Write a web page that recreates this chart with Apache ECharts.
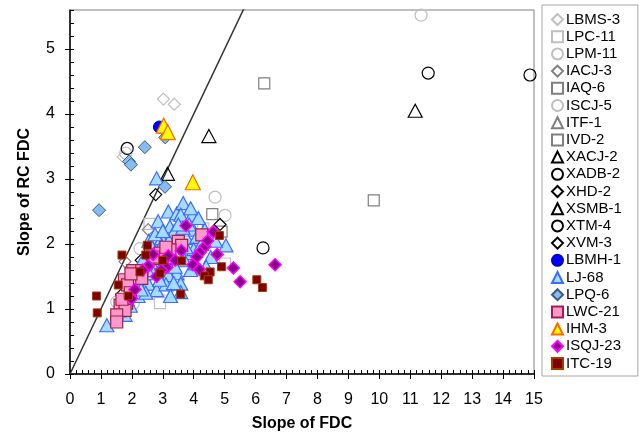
<!DOCTYPE html>
<html><head><meta charset="utf-8">
<script src="https://cdn.jsdelivr.net/npm/echarts@6/dist/echarts.min.js"></script>
<style>html,body{margin:0;padding:0;background:#fff}#c{width:639px;height:433px}</style>
</head><body><div id="c"></div>
<script>
// ---- data: [Slope of FDC, Slope of RC FDC] ----
const LBMS3 = [[3.02,4.23],[3.37,4.15],[1.72,3.34]];
const LPC11 = [[2.57,2.31],[4.31,2.24],[3.93,1.91],[5.01,1.70],[2.91,1.09],[3.30,2.00],[2.70,1.60],[3.60,2.10],[4.00,2.00],[2.20,1.40],[3.00,1.30]];
const LPM11 = [[11.35,5.52],[4.69,2.72],[1.80,3.40],[2.26,1.93],[2.60,1.55],[3.20,1.75],[3.50,1.45],[2.90,2.05],[2.40,1.45],[3.80,2.20],[4.20,1.90]];
const IACJ3 = [[2.53,2.22],[1.78,1.73],[2.50,1.35]];
const IAQ6 = [[6.28,4.47],[4.60,2.46],[4.90,2.19],[3.50,2.20],[2.80,1.90],[3.90,1.80]];
const ISCJ5 = [[5.01,2.44],[1.51,1.11],[2.05,1.09],[3.10,1.60],[3.70,2.35]];
const ITF1 = [[3.10,2.05]];
const IVD2 = [[9.82,2.67],[4.10,2.30]];
const XACJ2 = [[4.49,3.66],[11.16,4.05]];
const XADB2 = [[11.58,4.63],[14.87,4.60]];
const XHD2 = [[2.77,2.76],[4.85,2.30]];
const XSMB1 = [[3.15,3.08]];
const XTM4 = [[1.85,3.47],[6.24,1.94],[2.60,1.90],[3.30,1.60]];
const XVM3 = [[1.67,1.22],[2.30,1.75],[3.50,1.85]];
const LBMH1 = [[2.89,3.80]];
const LJ68 = [[2.80,3.01],[3.18,2.50],[3.45,2.47],[3.66,2.63],[3.58,2.45],[3.95,2.45],[3.23,2.27],[3.39,2.16],[2.96,2.09],[3.36,2.19],
  [3.99,2.22],[4.36,2.22],[3.77,2.09],[4.10,2.11],[2.96,1.98],[5.04,1.98],[3.82,1.86],[3.45,1.55],[3.58,1.39],[2.26,1.37],
  [2.53,1.39],[2.80,1.29],[3.18,1.52],[1.19,0.75],[1.78,0.91],[3.58,1.26],[2.05,1.25],[2.40,1.55],[2.62,1.72],[3.00,1.70],
  [3.30,1.80],[2.20,1.20],[3.70,1.75],[4.00,1.92],[3.10,1.38],[1.60,0.98],[2.70,1.55],[3.55,2.00],[3.85,2.30],[4.25,2.00],
  [2.55,2.05],[2.85,2.35],[3.05,1.85],[3.35,1.40],[2.45,1.25],[1.95,1.05],[2.15,1.45],[4.55,1.80],[4.70,2.05],[3.90,1.60],
  [3.65,2.25],[2.90,1.45],[3.20,2.05],[2.35,1.75],[4.15,2.40],[3.50,2.30],[2.65,1.95],[3.75,1.95],[4.40,1.65],[2.75,2.15],
  [1.85,1.15],[2.50,1.60],[3.40,1.65],[3.00,2.20],[4.05,1.70],[3.25,1.20],[2.30,1.30],[3.90,2.55]];
const LPQ6 = [[0.94,2.52],[1.91,3.27],[1.97,3.22],[2.42,3.49],[3.08,3.64],[3.07,2.88]];
const LWC21 = [[3.50,2.04],[3.61,1.98],[4.26,2.14],[2.91,1.86],[3.23,1.91],[2.03,1.59],[2.32,1.59],[2.32,1.47],[1.76,1.45],[1.86,1.37],
  [1.62,1.06],[1.83,1.09],[1.78,0.98],[1.51,0.91],[1.51,0.80],[2.91,1.78],[1.97,1.54],[1.68,1.15],[2.70,1.80],[3.10,1.95],[1.95,1.25]];
const IHM3 = [[3.03,3.82],[3.16,3.72],[3.97,2.95]];
const ISQJ23 = [[2.69,1.84],[3.18,1.82],[2.53,1.66],[3.13,1.64],[2.80,1.50],[1.99,1.16],[3.75,2.28],[4.63,2.19],[4.36,1.96],[4.20,1.87],
  [4.10,1.80],[4.76,1.84],[3.97,1.68],[4.18,1.61],[5.28,1.63],[5.50,1.42],[6.63,1.68],[2.95,1.60],[3.40,1.75],[2.35,1.60],
  [4.45,2.05],[3.60,1.90],[2.10,1.30]];
const ITC19 = [[2.50,1.98],[1.68,1.83],[2.45,1.83],[2.26,1.57],[2.91,1.55],[1.56,1.37],[1.89,1.20],[0.86,1.20],[0.88,0.94],[4.83,2.13],
  [3.61,1.74],[4.90,1.65],[4.53,1.57],[4.34,1.51],[4.47,1.45],[6.04,1.45],[6.22,1.33],[3.58,1.23],[3.00,1.75]];
const oneToOne = [[0,0],[6,6]];
const xTicks = {min:0, max:15, step:1};
const yTicks = {min:0, max:5.6, step:1};

const FONT = 'Liberation Sans, Arial, sans-serif';
const greyL = '#bfbfbf', greyD = '#7f7f7f', blk = '#000000';
const clear = 'rgba(255,255,255,0)';

function sc(name, data, symbol, size, fill, border, bw) {
  return { name, type:'scatter', data, symbol, symbolSize:size,
    itemStyle:{color:fill, borderColor:border, borderWidth:bw, opacity:1},
    emphasis:{disabled:true}, xAxisIndex:0, yAxisIndex:0 };
}

const series = [
  { name:'1:1', type:'line', data:oneToOne, symbol:'none', silent:true, clip:true,
    lineStyle:{color:'#333', width:1.5}, xAxisIndex:0, yAxisIndex:0, z:1 },
  sc('LBMS-3', LBMS3, 'diamond', [12,12], clear, greyL, 1.2),
  sc('LPC-11', LPC11, 'rect', [11,11], clear, greyL, 1.2),
  sc('LPM-11', LPM11, 'circle', 12, clear, greyL, 1.2),
  sc('IACJ-3', IACJ3, 'diamond', [12,12], clear, greyD, 1.2),
  sc('IAQ-6', IAQ6, 'rect', [11,11], clear, greyD, 1.2),
  sc('ISCJ-5', ISCJ5, 'circle', 12, clear, greyL, 1.2),
  sc('ITF-1', ITF1, 'triangle', [13,12], clear, greyD, 1.2),
  sc('IVD-2', IVD2, 'rect', [11,11], clear, greyD, 1.2),
  sc('XACJ-2', XACJ2, 'triangle', [14,13], clear, blk, 1.2),
  sc('XADB-2', XADB2, 'circle', 12, clear, blk, 1.2),
  sc('XHD-2', XHD2, 'diamond', [12,12], clear, blk, 1.2),
  sc('XSMB-1', XSMB1, 'triangle', [14,13], clear, blk, 1.2),
  sc('XTM-4', XTM4, 'circle', 12, clear, blk, 1.2),
  sc('XVM-3', XVM3, 'diamond', [12,12], clear, blk, 1.2),
  sc('LBMH-1', LBMH1, 'circle', 12, '#0000ff', '#0000cc', 1),
  sc('LJ-68', LJ68, 'triangle', [14,13], '#a6dcff', '#3a6cff', 1.2),
  sc('LPQ-6', LPQ6, 'diamond', [13,13], '#88bbee', '#3d5a80', 1),
  sc('LWC-21', LWC21, 'rect', [12,12], '#ff99cc', '#a0204a', 1.2),
  sc('IHM-3', IHM3, 'triangle', [15,15], '#ffff00', '#ff6600', 1.2),
  sc('ISQJ-23', ISQJ23, 'diamond', [12,12], '#8a008a', '#ff00ff', 1.5),
  sc('ITC-19', ITC19, 'rect', [8,8], '#800000', '#a04000', 1)
];
const legendNames = series.filter(s => s.type === 'scatter').map(s => s.name);

function xAx(main) {
  return { type:'value', min:xTicks.min, max:xTicks.max, interval: main ? xTicks.step : 0.2,
    position:'bottom', splitLine:{show:false},
    axisLine:{show:true, onZero:false, lineStyle:{color:'#000', width: main ? 1.5 : 0}},
    axisTick:{show:true, inside:!main, length: main ? 5 : 4, lineStyle:{color:'#000', width:1}},
    axisLabel: main ? {show:true, fontSize:16, color:'#000', fontFamily:FONT, margin:18} : {show:false},
    name: main ? 'Slope of FDC' : '', nameLocation:'middle', nameGap:42,
    nameTextStyle:{fontSize:16, fontWeight:'bold', color:'#000', fontFamily:FONT} };
}
function yAx(main) {
  return { type:'value', min:yTicks.min, max:yTicks.max, interval: main ? yTicks.step : 0.2,
    position:'left', splitLine:{show:false},
    axisLine:{show:true, onZero:false, lineStyle:{color:'#000', width: main ? 1.5 : 0}},
    axisTick:{show:true, inside:!main, length: main ? 5 : 4, lineStyle:{color:'#000', width:1}},
    axisLabel: main ? {show:true, fontSize:16, color:'#000', fontFamily:FONT, margin:15, showMaxLabel:false} : {show:false},
    name: main ? 'Slope of RC FDC' : '', nameLocation:'middle', nameGap:37,
    nameTextStyle:{fontSize:16, fontWeight:'bold', color:'#000', fontFamily:FONT} };
}

const chart = echarts.init(document.getElementById('c'), null, {renderer:'canvas'});
chart.setOption({
  animation:false,
  backgroundColor:'#fff',
  grid:{left:70, right:105, top:10, bottom:59, show:true, borderColor:'#808080', borderWidth:1,
    backgroundColor:'transparent', containLabel:false, outerBoundsMode:'none'},
  xAxis:[xAx(true), xAx(false)],
  yAxis:[yAx(true), yAx(false)],
  legend:{ data:legendNames, orient:'vertical', left:542, top:5, height:400,
    padding:[7,16,5,9], itemWidth:11, itemHeight:11, itemGap:2.2,
    borderColor:'#a6a6a6', borderWidth:1, selectedMode:false,
    textStyle:{fontSize:15, color:'#000', fontFamily:FONT, padding:[0,0,0,-2]} },
  series
});
</script></body></html>
